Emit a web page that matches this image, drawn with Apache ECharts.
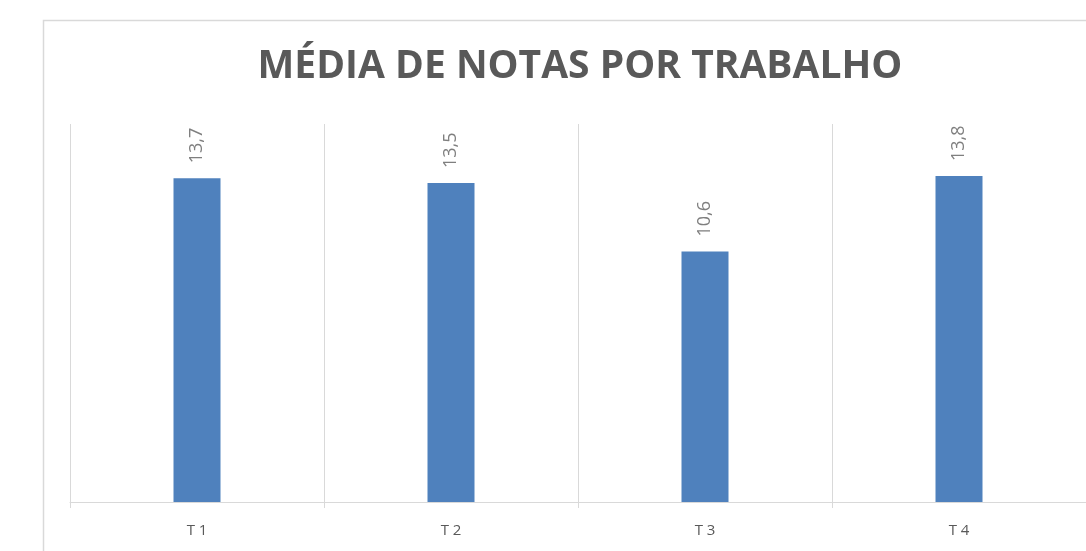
<!DOCTYPE html>
<html>
<head>
<meta charset="utf-8">
<script src="https://cdn.jsdelivr.net/npm/echarts@6/dist/echarts.min.js"></script>
<style>html,body{margin:0;padding:0;background:#fff;}#c{width:1086px;height:551px;}</style>
</head>
<body>
<div id="c"></div>
<script>
const categories = ['T1', 'T2', 'T3', 'T4'];
const values = [13.7, 13.5, 10.6, 13.8];
const titleText = 'MÉDIA DE NOTAS POR TRABALHO';

const chart = echarts.init(document.getElementById('c'), null, {renderer: 'canvas'});
chart.setOption({
  animation: false,
  backgroundColor: '#ffffff',
  graphic: [{
    type: 'rect', left: 41, top: 18, silent: true,
    shape: {x: 0, y: 0, width: 1100, height: 600},
    style: {fill: 'none', stroke: '#d9d9d9', lineWidth: 1.5}
  }, {
    type: 'text', x: 580, y: 67, silent: true,
    style: {text: titleText, align: 'center', verticalAlign: 'middle',
      fontFamily: 'Open Sans', fontWeight: 'bold', fontSize: 39, fill: '#595959'}
  }],
  grid: {left: 70, top: 124, width: 1021, height: 378, containLabel: false},
  xAxis: {
    type: 'category', data: categories,
    axisLine: {show: true, lineStyle: {color: '#d9d9d9', width: 1}},
    axisTick: {show: true, length: 6, lineStyle: {color: '#d9d9d9'}},
    splitLine: {show: true, lineStyle: {color: '#d9d9d9', width: 1}},
    axisLabel: {color: '#595959', fontFamily: 'Open Sans', fontSize: 15, margin: 21,
      formatter: v => v.split('').join(' ')}
  },
  yAxis: {type: 'value', min: 0, max: 16, show: false, splitLine: {show: false}},
  series: [{
    type: 'bar', data: values, barWidth: 47,
    itemStyle: {color: '#4f81bd'},
    label: {show: true, position: 'top', rotate: 90, align: 'left', verticalAlign: 'middle',
      distance: 15, color: '#7f7f7f', fontFamily: 'Open Sans', fontSize: 18,
      formatter: p => String(p.value).replace('.', ',')}
  }]
});
</script>
</body>
</html>
